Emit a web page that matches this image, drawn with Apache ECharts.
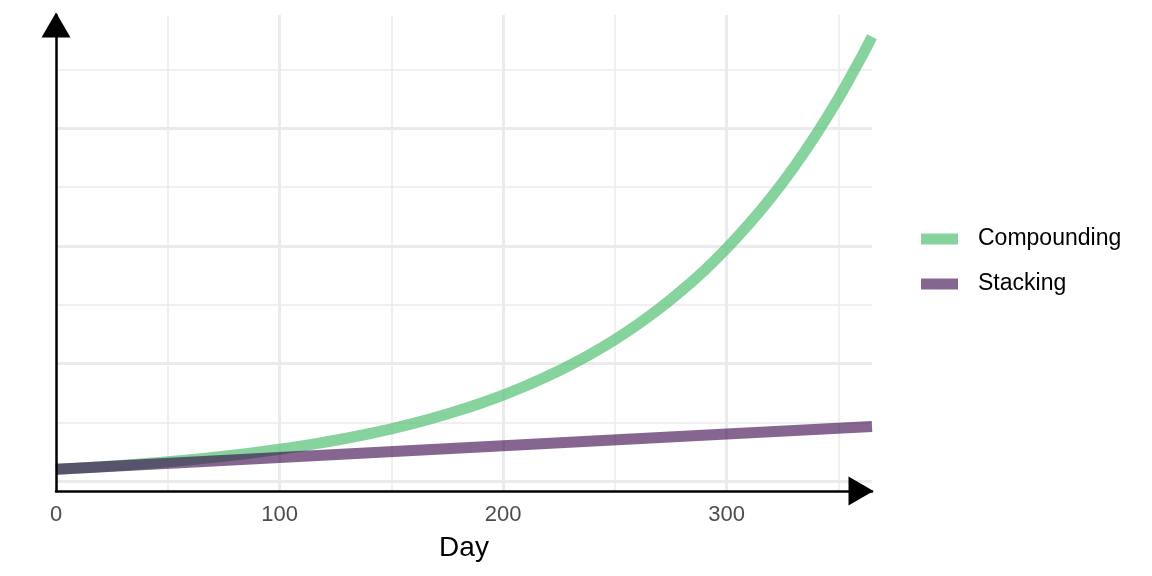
<!DOCTYPE html>
<html>
<head>
<meta charset="utf-8">
<script src="https://cdn.jsdelivr.net/npm/echarts@6/dist/echarts.min.js"></script>
<style>
html,body{margin:0;padding:0;background:#fff;}
#chart{width:1152px;height:576px;}
</style>
</head>
<body>
<div id="chart"></div>
<script>
// Data
const days = [0,10,20,30,40,50,60,70,80,90,100,110,120,130,140,150,160,170,180,190,200,210,220,230,240,250,260,270,280,290,300,310,320,330,340,350,360,365];
const compounding = [1.00,1.105,1.22,1.348,1.489,1.645,1.817,2.007,2.217,2.449,2.705,2.988,3.30,3.646,4.027,4.448,4.914,5.428,5.996,6.623,7.316,8.081,8.926,9.86,10.89,12.03,13.29,14.68,16.22,17.91,19.79,21.86,24.14,26.67,29.46,32.54,35.95,37.78];
const stackDays = [0,100,200,300,365];
const stacking = [1.00,2.00,3.00,4.00,4.65];
const xTickLabels = [0,100,200,300];
const xMajorGrid = [100,200,300];
const xMinorGrid = [50,150,250,350];
const yMajorGrid = [0,10,20,30];
const yMinorGrid = [5,15,25,35];
const seriesNames = ['Compounding','Stacking'];

const GRID_COLOR = '#ebebeb';
const FONT = '"Liberation Sans", Arial, Helvetica, sans-serif';

function gridLines(vals, key, width) {
  return vals.map(v => ({ [key]: v, lineStyle: { color: GRID_COLOR, width: width, type: 'solid' } }));
}

const chart = echarts.init(document.getElementById('chart'), null, { renderer: 'canvas' });
chart.setOption({
  animation: false,
  backgroundColor: '#ffffff',
  grid: { left: 56, right: 280, top: 15, bottom: 85, containLabel: false },
  xAxis: {
    type: 'value',
    z: 10,
    min: 0,
    max: 365,
    interval: 100,
    name: 'Day',
    nameLocation: 'middle',
    nameGap: 43,
    nameTextStyle: { fontFamily: FONT, fontSize: 28, color: '#000' },
    axisLine: {
      show: true,
      onZero: false,
      symbol: ['none', 'triangle'],
      symbolSize: [29, 25],
      symbolOffset: [0, -11],
      lineStyle: { color: '#000', width: 2.5 }
    },
    axisTick: { show: false },
    splitLine: { show: false },
    axisLabel: {
      show: true,
      margin: 13,
      showMaxLabel: false,
      fontFamily: FONT,
      fontSize: 22,
      color: '#4d4d4d',
      formatter: v => (xTickLabels.indexOf(v) >= 0 ? String(v) : '')
    }
  },
  yAxis: {
    type: 'value',
    z: 10,
    min: -0.84,
    max: 39.62,
    axisLine: {
      show: true,
      onZero: false,
      symbol: ['none', 'triangle'],
      symbolSize: [29, 25],
      symbolOffset: [0, -10],
      lineStyle: { color: '#000', width: 2.5 }
    },
    axisTick: { show: false },
    axisLabel: { show: false },
    splitLine: { show: false }
  },
  legend: {
    orient: 'vertical',
    left: 916,
    top: 222,
    itemGap: 21,
    itemWidth: 37,
    itemHeight: 11,
    icon: 'rect',
    data: seriesNames,
    textStyle: { fontFamily: FONT, fontSize: 23, color: '#000', lineHeight: 24, padding: [0, 0, 0, 15] }
  },
  series: [
    {
      name: '_grid',
      type: 'line',
      data: [],
      z: 1,
      silent: true,
      markLine: {
        z: 1,
        silent: true,
        symbol: ['none', 'none'],
        label: { show: false },
        animation: false,
        data: [].concat(
          gridLines(xMinorGrid, 'xAxis', 1.5),
          gridLines(xMajorGrid, 'xAxis', 3),
          gridLines(yMinorGrid, 'yAxis', 1.5),
          gridLines(yMajorGrid, 'yAxis', 3)
        )
      }
    },
    {
      name: seriesNames[0],
      type: 'line',
      z: 2,
      showSymbol: false,
      smooth: 0.2,
      color: 'rgba(82,192,116,0.7)',
      lineStyle: { width: 11, color: 'rgba(82,192,116,0.7)', cap: 'butt', join: 'round' },
      data: days.map((d, i) => [d, compounding[i]])
    },
    {
      name: seriesNames[1],
      type: 'line',
      z: 3,
      showSymbol: false,
      color: 'rgba(53,0,72,0.6)',
      lineStyle: { width: 11, color: 'rgba(53,0,72,0.6)', cap: 'butt', join: 'round' },
      data: stackDays.map((d, i) => [d, stacking[i]])
    }
  ]
});
</script>
</body>
</html>
